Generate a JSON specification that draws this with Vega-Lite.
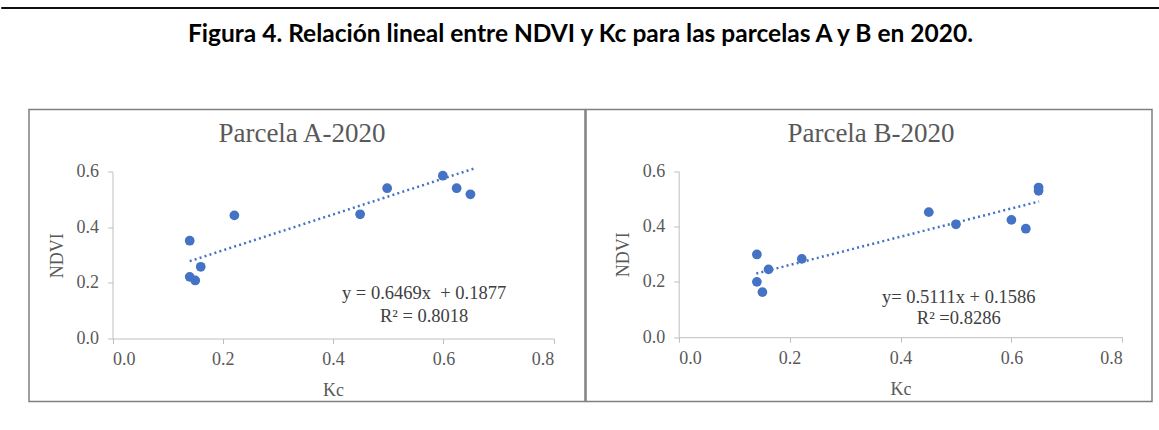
{
  "$schema": "https://vega.github.io/schema/vega-lite/v6.json",
  "padding": {"left": 0, "right": 0, "top": 4, "bottom": 0},
  "background": "white",
  "config": {
    "view": {"stroke": null},
    "axis": {
      "grid": false,
      "domainColor": "#bfbfbf",
      "domainWidth": 1,
      "tickColor": "#bfbfbf",
      "tickSize": 5,
      "labelFont": "Liberation Serif",
      "labelFontSize": 18,
      "labelColor": "#595959",
      "titleFont": "Liberation Serif",
      "titleFontSize": 18,
      "titleFontWeight": "normal",
      "titleColor": "#595959"
    }
  },
  "datasets": {
    "a": [
      {"kc": 0.14, "ndvi": 0.352},
      {"kc": 0.221, "ndvi": 0.443},
      {"kc": 0.14, "ndvi": 0.222},
      {"kc": 0.15, "ndvi": 0.209},
      {"kc": 0.16, "ndvi": 0.258},
      {"kc": 0.449, "ndvi": 0.447},
      {"kc": 0.498, "ndvi": 0.541},
      {"kc": 0.599, "ndvi": 0.586},
      {"kc": 0.624, "ndvi": 0.541},
      {"kc": 0.649, "ndvi": 0.519}
    ],
    "aTrend": [
      {"kc": 0.14, "ndvi": 0.2783},
      {"kc": 0.655, "ndvi": 0.6114}
    ],
    "aEq": [
      {"t": "y = 0.6469x \u00a0+ 0.1877\nR² = 0.8018"}
    ],
    "aTitle": [
      {"t": "Parcela A-2020"}
    ],
    "b": [
      {"kc": 0.141, "ndvi": 0.299},
      {"kc": 0.141, "ndvi": 0.2},
      {"kc": 0.151, "ndvi": 0.163},
      {"kc": 0.162, "ndvi": 0.245},
      {"kc": 0.222, "ndvi": 0.283},
      {"kc": 0.451, "ndvi": 0.452},
      {"kc": 0.5, "ndvi": 0.408},
      {"kc": 0.6, "ndvi": 0.424},
      {"kc": 0.626, "ndvi": 0.392},
      {"kc": 0.649, "ndvi": 0.541},
      {"kc": 0.649, "ndvi": 0.529}
    ],
    "bTrend": [
      {"kc": 0.14, "ndvi": 0.2302},
      {"kc": 0.65, "ndvi": 0.4908}
    ],
    "bEq": [
      {"t": "y= 0.5111x + 0.1586\nR² =0.8286"}
    ],
    "bTitle": [
      {"t": "Parcela B-2020"}
    ]
  },
  "spacing": 10.5,
  "vconcat": [
    {
      "width": 1159,
      "height": 1,
      "view": {"stroke": "#111111", "strokeWidth": 1},
      "data": {"values": [{"k": 0}]},
      "mark": {"type": "point", "opacity": 0},
      "encoding": {}
    },
    {
      "title": {
        "text": "Figura 4. Relación lineal entre NDVI y Kc para las parcelas A y B en 2020.",
        "font": "Lato",
        "fontSize": 24.5,
        "fontWeight": "bold",
        "color": "#000000",
        "anchor": "start",
        "frame": "group",
        "offset": 61,
        "dx": 187
      },
      "spacing": -1.5,
      "hconcat": [
        {
          "width": 28,
          "height": 292,
          "data": {"values": [{"k": 0}]},
          "mark": {"type": "point", "opacity": 0},
          "encoding": {}
        },
        {
          "width": 556,
          "height": 292,
          "view": {"stroke": "#7f7f7f", "strokeWidth": 1.5},
          "layer": [
            {
              "data": {"name": "aTrend"},
              "mark": {"type": "line", "color": "#4472C4", "strokeWidth": 2.5, "strokeDash": [2, 3.2]},
              "encoding": {
                "x": {"field": "kc", "type": "quantitative", "title": "Kc",
                  "scale": {"domain": [0, 0.8], "range": [83.5, 524.7], "nice": false, "zero": false},
                  "axis": {"values": [0, 0.2, 0.4, 0.6, 0.8], "format": ".1f", "offset": -63, "labelPadding": 7, "titlePadding": 13}},
                "y": {"field": "ndvi", "type": "quantitative", "title": "NDVI",
                  "scale": {"domain": [0, 0.6], "range": [229, 62.3], "nice": false, "zero": false},
                  "axis": {"values": [0, 0.2, 0.4, 0.6], "format": ".1f", "offset": -83.5, "labelPadding": 9, "titlePadding": 10}}
              }
            },
            {
              "data": {"name": "a"},
              "mark": {"type": "circle", "size": 95, "color": "#4472C4", "opacity": 1},
              "encoding": {
                "x": {"field": "kc", "type": "quantitative"},
                "y": {"field": "ndvi", "type": "quantitative"}
              }
            },
            {
              "data": {"name": "aEq"},
              "mark": {"type": "text", "font": "Liberation Serif", "fontSize": 18.5, "color": "#404040", "lineBreak": "\n", "lineHeight": 23, "align": "center", "baseline": "middle"},
              "encoding": {
                "x": {"datum": 0.565, "type": "quantitative"},
                "y": {"datum": 0.163, "type": "quantitative"},
                "text": {"field": "t"}
              }
            },
            {
              "data": {"name": "aTitle"},
              "mark": {"type": "text", "font": "Liberation Serif", "fontSize": 27, "color": "#595959", "align": "center", "baseline": "alphabetic"},
              "encoding": {
                "x": {"datum": 0.3436, "type": "quantitative"},
                "y": {"datum": 0.709, "type": "quantitative"},
                "text": {"field": "t"}
              }
            }
          ]
        },
        {
          "width": 566,
          "height": 292,
          "view": {"stroke": "#7f7f7f", "strokeWidth": 1.5},
          "layer": [
            {
              "data": {"name": "bTrend"},
              "mark": {"type": "line", "color": "#4472C4", "strokeWidth": 2.5, "strokeDash": [2, 3.2]},
              "encoding": {
                "x": {"field": "kc", "type": "quantitative", "title": "Kc",
                  "scale": {"domain": [0, 0.8], "range": [92.7, 536.3], "nice": false, "zero": false},
                  "axis": {"values": [0, 0.2, 0.4, 0.6, 0.8], "format": ".1f", "offset": -64.3, "labelPadding": 7, "titlePadding": 13}},
                "y": {"field": "ndvi", "type": "quantitative", "title": "NDVI",
                  "scale": {"domain": [0, 0.6], "range": [227.7, 61.7], "nice": false, "zero": false},
                  "axis": {"values": [0, 0.2, 0.4, 0.6], "format": ".1f", "offset": -92.7, "labelPadding": 9, "titlePadding": 10}}
              }
            },
            {
              "data": {"name": "b"},
              "mark": {"type": "circle", "size": 95, "color": "#4472C4", "opacity": 1},
              "encoding": {
                "x": {"field": "kc", "type": "quantitative"},
                "y": {"field": "ndvi", "type": "quantitative"}
              }
            },
            {
              "data": {"name": "bEq"},
              "mark": {"type": "text", "font": "Liberation Serif", "fontSize": 18.5, "color": "#404040", "lineBreak": "\n", "lineHeight": 21, "align": "center", "baseline": "middle"},
              "encoding": {
                "x": {"datum": 0.505, "type": "quantitative"},
                "y": {"datum": 0.144, "type": "quantitative"},
                "text": {"field": "t"}
              }
            },
            {
              "data": {"name": "bTitle"},
              "mark": {"type": "text", "font": "Liberation Serif", "fontSize": 27, "color": "#595959", "align": "center", "baseline": "alphabetic"},
              "encoding": {
                "x": {"datum": 0.3468, "type": "quantitative"},
                "y": {"datum": 0.7073, "type": "quantitative"},
                "text": {"field": "t"}
              }
            }
          ]
        }
      ]
    }
  ]
}
